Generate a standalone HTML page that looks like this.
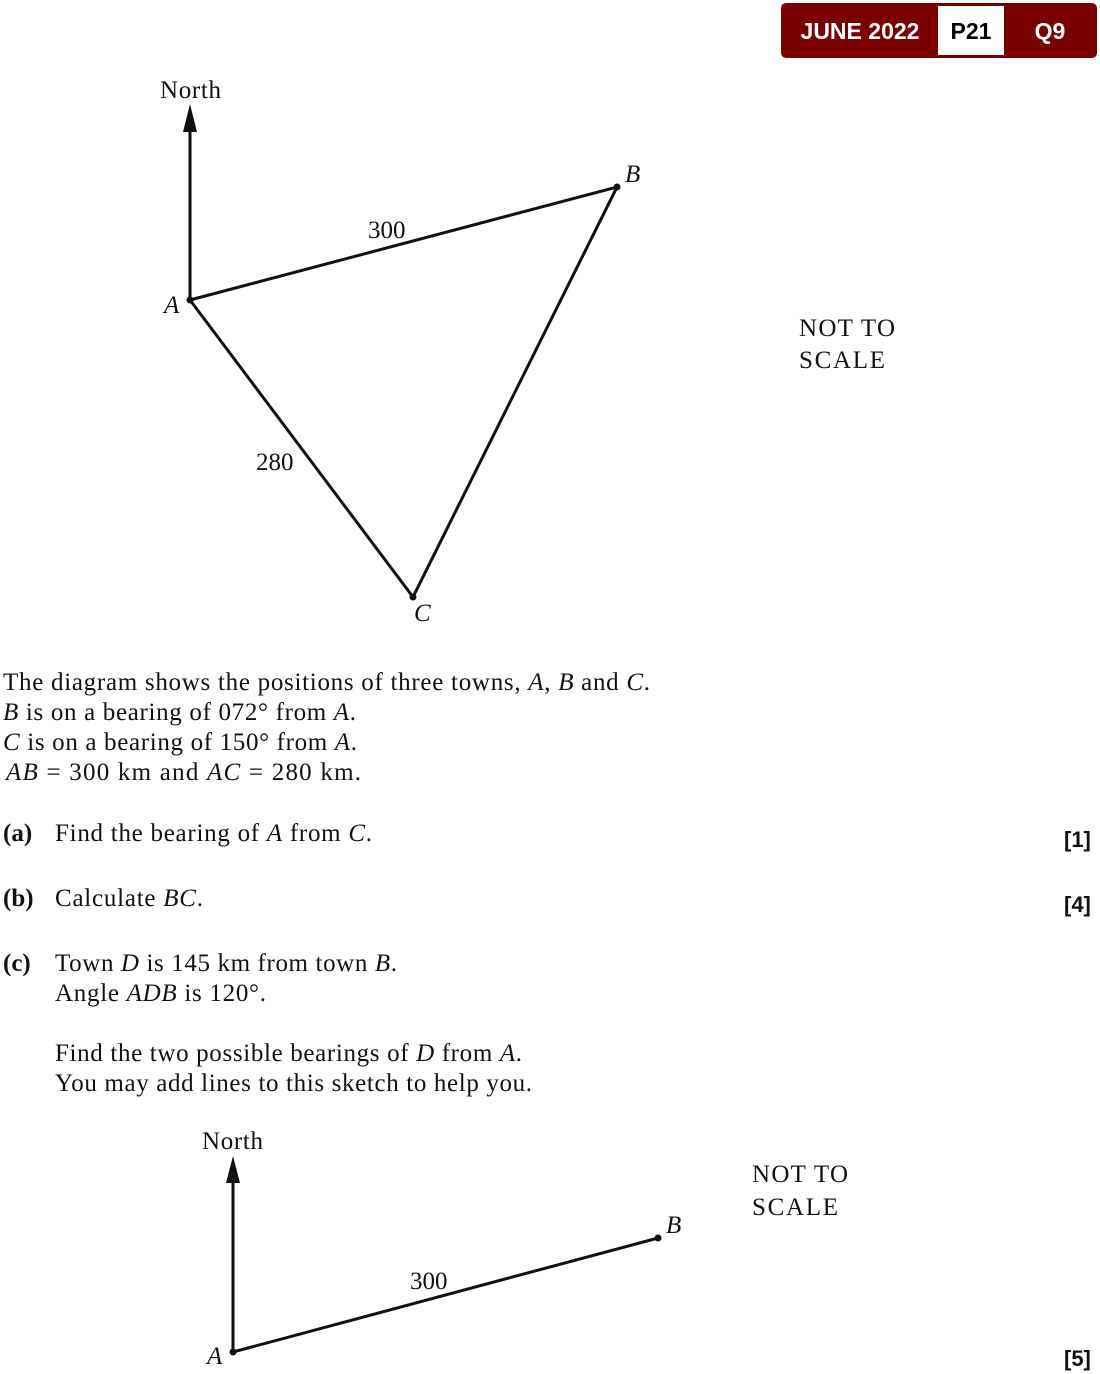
<!DOCTYPE html>
<html><head><meta charset="utf-8"><style>
html,body{margin:0;padding:0;background:#fff;}
svg{display:block;}
.s{font-family:"Liberation Serif",serif;font-size:25px;fill:#111;}
.i{font-style:italic;}
.b{font-weight:bold;}
.m{font-family:"Liberation Sans",sans-serif;font-weight:bold;font-size:22px;fill:#111;}
</style></head><body>
<svg width="1100" height="1374" viewBox="0 0 1100 1374" xmlns="http://www.w3.org/2000/svg">
<rect x="781" y="3" width="316" height="55" rx="5" fill="#7a0000"/>
<rect x="938" y="6" width="66" height="49" fill="#fff"/>
<text x="860" y="39" text-anchor="middle" font-family="Liberation Sans,sans-serif" font-weight="bold" font-size="23" fill="#fff">JUNE 2022</text>
<text x="971" y="39" text-anchor="middle" font-family="Liberation Sans,sans-serif" font-weight="bold" font-size="23" fill="#000">P21</text>
<text x="1050" y="39" text-anchor="middle" font-family="Liberation Sans,sans-serif" font-weight="bold" font-size="23" fill="#fff">Q9</text>

<g stroke="#111" stroke-width="3" fill="none">
<line x1="190" y1="300" x2="190" y2="125"/>
<polyline points="190,300 617,187 413,597 190,300"/>
</g>
<polygon points="190,104 183,132 197,132" fill="#111"/>
<circle cx="190" cy="300" r="3.5" fill="#111"/><circle cx="617" cy="187" r="3.5" fill="#111"/><circle cx="413" cy="597" r="3.5" fill="#111"/>
<text class="s" x="160" y="98" textLength="61" lengthAdjust="spacing">North</text>
<text class="s i" x="625" y="182">B</text>
<text class="s i" x="164" y="313">A</text>
<text class="s i" x="414" y="621">C</text>
<text class="s" x="368" y="238">300</text>
<text class="s" x="256" y="470">280</text>
<text class="s" x="799" y="336" textLength="96" lengthAdjust="spacing">NOT TO</text>
<text class="s" x="799" y="368" textLength="86" lengthAdjust="spacing">SCALE</text>

<text class="s" x="3" y="690" textLength="647" lengthAdjust="spacing">The diagram shows the positions of three towns, <tspan class="i">A</tspan>, <tspan class="i">B</tspan> and <tspan class="i">C</tspan>.</text>
<text class="s" x="3" y="720" textLength="353" lengthAdjust="spacing"><tspan class="i">B</tspan> is on a bearing of 072° from <tspan class="i">A</tspan>.</text>
<text class="s" x="3" y="750" textLength="354" lengthAdjust="spacing"><tspan class="i">C</tspan> is on a bearing of 150° from <tspan class="i">A</tspan>.</text>
<text class="s" x="6" y="780" textLength="355" lengthAdjust="spacing"><tspan class="i">AB</tspan> = 300 km and <tspan class="i">AC</tspan> = 280 km.</text>

<text class="s b" x="3" y="841">(a)</text><text class="s" x="55" y="841" textLength="317" lengthAdjust="spacing">Find the bearing of <tspan class="i">A</tspan> from <tspan class="i">C</tspan>.</text>
<text class="s b" x="3" y="906">(b)</text><text class="s" x="55" y="906" textLength="148" lengthAdjust="spacing">Calculate <tspan class="i">BC</tspan>.</text>
<text class="s b" x="3" y="971">(c)</text><text class="s" x="55" y="971" textLength="342" lengthAdjust="spacing">Town <tspan class="i">D</tspan> is 145 km from town <tspan class="i">B</tspan>.</text>
<text class="s" x="55" y="1001" textLength="211" lengthAdjust="spacing">Angle <tspan class="i">ADB</tspan> is 120°.</text>
<text class="s" x="55" y="1061" textLength="467" lengthAdjust="spacing">Find the two possible bearings of <tspan class="i">D</tspan> from <tspan class="i">A</tspan>.</text>
<text class="s" x="55" y="1091" textLength="477" lengthAdjust="spacing">You may add lines to this sketch to help you.</text>

<text class="m" x="1064" y="847">[1]</text>
<text class="m" x="1064" y="912">[4]</text>
<text class="m" x="1064" y="1366">[5]</text>

<g stroke="#111" stroke-width="3" fill="none">
<line x1="233" y1="1352" x2="233" y2="1178"/>
<line x1="233" y1="1352" x2="658" y2="1238"/>
</g>
<polygon points="233,1156 226,1183 240,1183" fill="#111"/>
<circle cx="233" cy="1352" r="3.5" fill="#111"/><circle cx="658" cy="1238" r="3.5" fill="#111"/>
<text class="s" x="202" y="1149" textLength="61" lengthAdjust="spacing">North</text>
<text class="s i" x="666" y="1233">B</text>
<text class="s i" x="207" y="1364">A</text>
<text class="s" x="410" y="1289">300</text>
<text class="s" x="752" y="1182" textLength="96" lengthAdjust="spacing">NOT TO</text>
<text class="s" x="752" y="1215" textLength="86" lengthAdjust="spacing">SCALE</text>
</svg>
</body></html>
